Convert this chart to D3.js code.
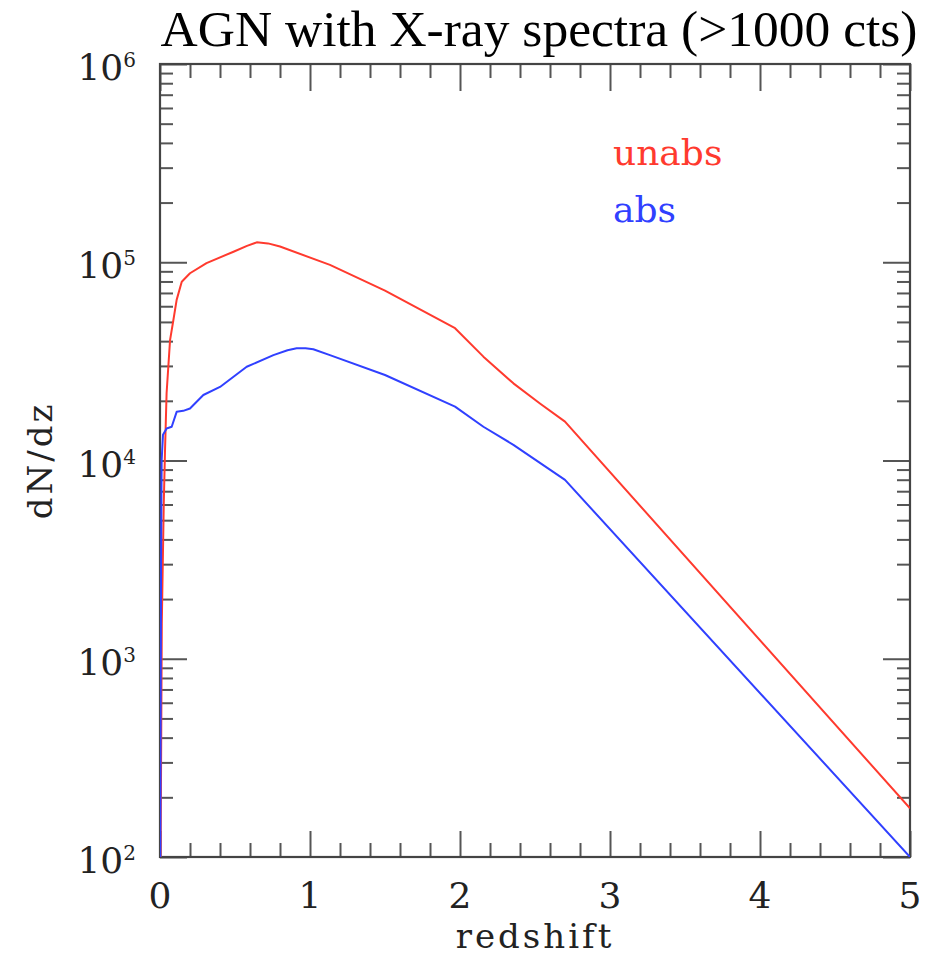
<!DOCTYPE html>
<html>
<head>
<meta charset="utf-8">
<script src="https://cdn.jsdelivr.net/npm/d3@7"></script>
<style>
  body { margin: 0; background: #fff; }
  svg { display: block; }
</style>
</head>
<body>
<svg></svg>
<script>
const width = 945
const height = 959

// unabsorbed AGN, dN/dz vs redshift
const zUnabs = [0.004, 0.012, 0.025, 0.033, 0.044, 0.067, 0.089, 0.111, 0.145, 0.2, 0.31, 0.49, 0.58, 0.645, 0.72, 0.8, 1.133, 1.5, 1.967, 2.156, 2.356, 2.533, 2.7, 5]
const nUnabs = [100, 1500, 6000, 10900, 21900, 40500, 51000, 64600, 79800, 88000, 99000, 113000, 121000, 126000, 124500, 120000, 97000, 72000, 46500, 33400, 24500, 19400, 15700, 176]

// absorbed AGN
const zAbs = [0.002, 0.007, 0.011, 0.02, 0.044, 0.078, 0.111, 0.155, 0.2, 0.289, 0.4, 0.578, 0.756, 0.85, 0.911, 0.97, 1.022, 1.133, 1.5, 1.967, 2.156, 2.356, 2.7, 5]
const nAbs = [100, 3000, 10000, 13500, 14500, 14800, 17600, 17800, 18300, 21400, 23500, 29700, 34000, 36000, 36800, 36800, 36400, 34000, 27000, 18700, 14800, 12000, 7980, 100]

const xMajor = [0, 1, 2, 3, 4, 5]
const yMajor = [2, 3, 4, 5, 6] // exponents

const svg = d3.select('svg').attr('width', width).attr('height', height)

const x = d3.scaleLinear().domain([0, 5]).range([160, 910])
const y = d3.scaleLog().domain([100, 1e6]).range([857, 64])

const serif = '"DejaVu Serif", serif'
const tickColor = '#555'

svg.append('defs').append('clipPath').attr('id', 'plot-clip')
  .append('rect')
  .attr('x', x(0)).attr('y', y(1e6))
  .attr('width', x(5) - x(0)).attr('height', y(100) - y(1e6))

// minor / major tick values
const xMinor = d3.range(0, 5.001, 0.2).filter((v) => Math.abs(v - Math.round(v)) > 1e-6)
const yMinor = []
for (let e = 2; e < 6; e++) for (let m = 2; m <= 9; m++) yMinor.push(m * Math.pow(10, e))
const yMajorVals = yMajor.map((e) => Math.pow(10, e))

const addAxis = (axis) => {
  const g = svg.append('g').call(axis)
  g.select('.domain').remove()
  g.selectAll('.tick line').attr('stroke', tickColor).attr('stroke-width', 2)
  g.selectAll('.tick text').remove()
  return g
}

// bottom + top
addAxis(d3.axisBottom(x).tickValues(xMinor).tickSize(-14)).attr('transform', `translate(0,${y(100)})`)
addAxis(d3.axisBottom(x).tickValues(xMajor).tickSize(-26)).attr('transform', `translate(0,${y(100)})`)
addAxis(d3.axisTop(x).tickValues(xMinor).tickSize(-14)).attr('transform', `translate(0,${y(1e6)})`)
addAxis(d3.axisTop(x).tickValues(xMajor).tickSize(-27)).attr('transform', `translate(0,${y(1e6)})`)
// left + right
addAxis(d3.axisLeft(y).tickValues(yMinor).tickSize(-13)).attr('transform', `translate(${x(0)},0)`)
addAxis(d3.axisLeft(y).tickValues(yMajorVals).tickSize(-27)).attr('transform', `translate(${x(0)},0)`)
addAxis(d3.axisRight(y).tickValues(yMinor).tickSize(-13)).attr('transform', `translate(${x(5)},0)`)
addAxis(d3.axisRight(y).tickValues(yMajorVals).tickSize(-27)).attr('transform', `translate(${x(5)},0)`)

// frame
svg.append('rect')
  .attr('x', x(0)).attr('y', y(1e6))
  .attr('width', x(5) - x(0)).attr('height', y(100) - y(1e6))
  .attr('fill', 'none').attr('stroke', '#444').attr('stroke-width', 2.2)

// x tick labels
svg.append('g').selectAll('text').data(xMajor).enter().append('text')
  .attr('x', (d) => x(d)).attr('y', y(100) + 51)
  .attr('text-anchor', 'middle')
  .style('font-family', serif).style('font-size', '36px').attr('fill', '#222')
  .text((d) => d)

// y tick labels 10^n
const yl = svg.append('g').selectAll('text').data(yMajor).enter().append('text')
  .attr('x', 136).attr('y', (d) => y(Math.pow(10, d)) + 16)
  .attr('text-anchor', 'end')
  .style('font-family', serif).attr('fill', '#222')
yl.append('tspan').style('font-size', '36px').text('10')
yl.append('tspan').style('font-size', '20px').attr('dy', -13).text((d) => d)

// axis titles
svg.append('text')
  .attr('x', (x(0) + x(5)) / 2).attr('y', 948)
  .attr('text-anchor', 'middle')
  .style('font-family', serif).style('font-size', '34px').style('letter-spacing', '3px')
  .attr('fill', '#222').text('redshift')

svg.append('text')
  .attr('transform', `translate(52,${(y(100) + y(1e6)) / 2}) rotate(-90)`)
  .attr('text-anchor', 'middle')
  .style('font-family', serif).style('font-size', '34px').style('letter-spacing', '3px')
  .attr('fill', '#222').text('dN/dz')

// title
svg.append('text')
  .attr('x', 539).attr('y', 46)
  .attr('text-anchor', 'middle')
  .style('font-family', '"Liberation Serif", "Times New Roman", serif').style('font-size', '51.5px')
  .attr('fill', '#000').text('AGN with X-ray spectra (>1000 cts)')

// curves (straight segments in log space)
const line = d3.line()
  .x((d) => x(d[0]))
  .y((d) => y(d[1]))

const series = [
  { name: 'unabs', z: zUnabs, n: nUnabs, color: '#ff3a2e' },
  { name: 'abs', z: zAbs, n: nAbs, color: '#3040ff' },
]

svg.append('g').attr('clip-path', 'url(#plot-clip)')
  .selectAll('path').data(series).enter().append('path')
  .attr('d', (s) => line(s.z.map((z, i) => [z, s.n[i]])))
  .attr('fill', 'none')
  .attr('stroke', (s) => s.color)
  .attr('stroke-width', 2)
  .attr('stroke-linejoin', 'round')

// legend
svg.append('g').selectAll('text').data(series).enter().append('text')
  .attr('x', 613).attr('y', (d, i) => 165 + i * 57)
  .style('font-family', serif).style('font-size', '36px')
  .attr('fill', (d) => d.color)
  .text((d) => d.name)
</script>
</body>
</html>
